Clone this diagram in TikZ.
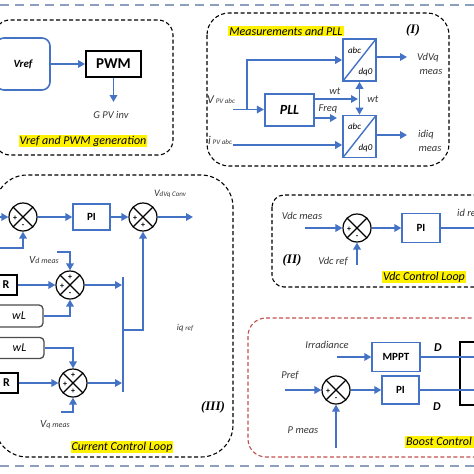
\documentclass[tikz,border=0pt]{standalone}
\usepackage{fontspec}
\setmainfont{Carlito}
\newfontfamily\romfont{Liberation Serif}
\usetikzlibrary{arrows.meta,calc}
\definecolor{lblue}{RGB}{68,114,196}
\definecolor{sepblue}{RGB}{140,160,190}
\definecolor{redd}{RGB}{192,80,77}
\definecolor{txt}{RGB}{55,55,55}
\newcommand\sumsign[3]{\node[sgn] at ($(#1)+(#2)$) {#3};}
\begin{document}
\begin{tikzpicture}[x=1pt,y=-1pt,
  wire/.style={draw=lblue, line width=1.7pt},
  arr/.style={wire, -{Triangle[length=7pt,width=7.5pt]}},
  darr/.style={wire, {Triangle[length=7pt,width=7.5pt]}-{Triangle[length=7pt,width=7.5pt]}},
  bbox/.style={draw=lblue, line width=1.3pt, minimum width=#1, inner sep=0pt},
  sumnode/.style={circle, draw, line width=1.2pt, minimum size=28pt, inner sep=0pt,
     path picture={\draw[line width=1.1pt] (path picture bounding box.north west) -- (path picture bounding box.south east)
       (path picture bounding box.north east) -- (path picture bounding box.south west);}},
  sgn/.style={font=\fontsize{8}{8}\selectfont\bfseries, inner sep=0pt},
  lbl/.style={text=txt, font=\fontsize{10.5}{11}\selectfont\itshape, inner sep=0pt},
  hl/.style={fill=yellow, inner sep=1pt, font=\fontsize{12}{13}\selectfont\itshape, text=black},
  roman/.style={font=\fontsize{13}{13}\selectfont\romfont\itshape\bfseries, inner sep=0pt},
  grp/.style={draw=black, line width=1.1pt, dash pattern=on 4pt off 2.5pt},
  conv/.style={draw=lblue, line width=1.6pt, minimum width=33pt, minimum height=42pt, inner sep=0pt,
     path picture={\draw[lblue, line width=1.4pt] (path picture bounding box.south west) -- (path picture bounding box.north east);}}
]
\useasboundingbox (0,0) rectangle (474,474);

% separators
\draw[sepblue, line width=1.6pt, dash pattern=on 9pt off 6pt] (0,5) -- (474,5);
\draw[sepblue, line width=1.6pt, dash pattern=on 9pt off 6pt] (0,466) -- (474,466);

% ---------- Vref and PWM generation ----------
\draw[grp, rounded corners=15pt] (-5,20) rectangle (173,155);
\node[draw=lblue, line width=1.6pt, rounded corners=8pt, minimum width=54pt, minimum height=52pt,
      font=\fontsize{11}{12}\selectfont\bfseries\itshape] (vref) at (23,64) {Vref};
\node[draw, line width=2pt, minimum width=55pt, minimum height=26pt,
      font=\fontsize{15}{16}\selectfont\bfseries] (pwm) at (113.5,64) {PWM};
\coordinate (gend) at (113.5,102);
\draw[arr] (vref) -- (pwm);
\draw[arr] (pwm) -- (gend);
\node[lbl] (gpv) at (111,115) {G PV inv};
\node[hl] (t1) at (83,141) {Vref and PWM generation};

% ---------- Measurements and PLL ----------
\draw[grp, rounded corners=22pt] (207,13) rectangle (449,166);
\node[hl] (t2) at (286,31) {Measurements and PLL};
\node[roman] (r1) at (413,30) {(I)};
\node[conv] (c1) at (359.5,60) {};
\node[conv] (c2) at (359.5,136.5) {};
\node[lbl, font=\fontsize{9}{9}\selectfont\itshape, text=black] (c1a) at ($(c1)+(-5,-10)$) {abc};
\node[lbl, font=\fontsize{9}{9}\selectfont\itshape, text=black] (c1b) at ($(c1)+(6,12)$) {dq0};
\node[lbl, font=\fontsize{9}{9}\selectfont\itshape, text=black] (c2a) at ($(c2)+(-5,-10)$) {abc};
\node[lbl, font=\fontsize{9}{9}\selectfont\itshape, text=black] (c2b) at ($(c2)+(6,12)$) {dq0};
\node[draw=lblue, line width=2.2pt, minimum width=49pt, minimum height=32pt,
      font=\fontsize{14}{15}\selectfont\bfseries\itshape] (pll) at (289.5,110) {PLL};
\coordinate (vin) at (233,109.5);
\coordinate (br) at (247,109.5);
\draw[arr] (vin) -- (pll.west|-vin);
\draw[arr] (br) |- (c1.west);
\coordinate (wtend) at (358,99);
\coordinate (fqend) at (337,118);
\draw[arr] (pll.east|-wtend) -- (wtend);
\draw[arr] (pll.east|-fqend) -- (fqend);
\draw[darr] (c1.south) -- (c2.north);
\coordinate (iin) at (233,145);
\draw[arr] (iin) -- (c2.west|-iin);
\coordinate (o1) at (407,57);
\coordinate (o2) at (407,135);
\draw[arr] (c1.east|-o1) -- (o1);
\draw[arr] (c2.east|-o2) -- (o2);
\node[lbl] (wt1) at (335,91) {wt};
\node[lbl] (wt2) at (373,99) {wt};
\node[lbl] (frq) at (328,109) {Freq};
\node[lbl, anchor=west] (vpv) at (207,100) {{\fontsize{12}{12}\selectfont V}\,{\fontsize{7}{7}\selectfont PV abc}};
\node[lbl, anchor=west] (ipv) at (208,140) {{\fontsize{12}{12}\selectfont i}\,{\fontsize{7}{7}\selectfont PV abc}};
\node[lbl] (vdvqm) at (428,58) {VdVq};
\node[lbl] (vdvqm2) at (431,72) {meas};
\node[lbl] (idiqm) at (426,135) {idiq};
\node[lbl] (idiqm2) at (430,149) {meas};

% ---------- Current Control Loop ----------
\draw[grp, rounded corners=32pt] (-5,175) rectangle (233,457);
\node[sumnode] (s1) at (23,217) {};
\node[sumnode] (s2) at (143,217) {};
\node[sumnode] (s3) at (70,285) {};
\node[sumnode] (s4) at (73,383) {};
\node[bbox=37pt, minimum height=26pt, font=\fontsize{11}{12}\selectfont\bfseries] (pi1) at (91.5,217) {PI};
\coordinate (in1) at (0,217);
\coordinate (fb1) at (0,248);
\draw[arr] (in1) -- (s1.west);
\draw[arr] (fb1) -| (s1.south);
\draw[arr] (s1) -- (pi1);
\draw[arr] (pi1) -- (s2);
\coordinate (out2) at (193,217);
\draw[arr] (s2.east) -- (out2);
\node[lbl] (vdvqc) at (170,194) {{\fontsize{10}{10}\selectfont V}{\fontsize{7}{7}\selectfont dVq Conv}};
\node[draw, line width=2pt, minimum width=22pt, minimum height=20pt, inner sep=0pt,
      font=\fontsize{12}{12}\selectfont\bfseries] (r1b) at (6,285) {R};
\node[draw=black!70, line width=1.3pt, rounded corners=4pt, minimum width=48pt, minimum height=22pt, inner sep=0pt,
      font=\fontsize{12}{12}\selectfont\itshape] (wl1) at (19,316) {wL};
\node[draw=black!70, line width=1.3pt, rounded corners=4pt, minimum width=49pt, minimum height=21pt, inner sep=0pt,
      font=\fontsize{12}{12}\selectfont\itshape] (wl2) at (19.5,348) {wL};
\node[draw, line width=2pt, minimum width=23pt, minimum height=20pt, inner sep=0pt,
      font=\fontsize{12}{12}\selectfont\bfseries] (r2b) at (6.5,383) {R};
\coordinate (vd) at (57,252);
\draw[arr] (vd) -| (s3.north);
\draw[arr] (r1b) -- (s3);
\draw[arr] (wl1.east) -| (s3.south);
\coordinate (b1) at (122,285);
\draw[arr] (s3.east) -- (b1);
\coordinate (bt) at (123,277);
\coordinate (bb) at (123,392);
\draw[wire] (bt) -- (bb);
\coordinate (jn) at (123,330);
\draw[arr] (jn) -| (s2.south);
\draw[arr] (wl2.east) -| (s4.north);
\draw[arr] (r2b) -- (s4);
\coordinate (vq) at (61,412);
\draw[arr] (vq) -| (s4.south);
\coordinate (b2) at (122,383);
\draw[arr] (s4.east) -- (b2);
\node[lbl] (vdm) at (44,260) {{\fontsize{11}{11}\selectfont V}{\fontsize{8}{8}\selectfont d meas}};
\node[lbl] (vqm) at (55,425) {{\fontsize{11}{11}\selectfont V}{\fontsize{8}{8}\selectfont q meas}};
\node[lbl] (iqr) at (185,328) {{\fontsize{9}{9}\selectfont iq}\,{\fontsize{7}{7}\selectfont ref}};
\node[roman] (r3) at (213,407) {(III)};
\node[hl] (t3) at (122,447) {Current Control Loop};
\sumsign{s1}{-8,1}{+}
\sumsign{s1}{0,9}{-}
\sumsign{s2}{-8,1}{+}
\sumsign{s2}{0,8}{+}
\sumsign{s3}{0,-8}{+}
\sumsign{s3}{-8,1}{+}
\sumsign{s3}{0,9}{-}
\sumsign{s4}{0,-8}{+}
\sumsign{s4}{-8,1}{+}
\sumsign{s4}{0,8}{+}

% ---------- Vdc Control Loop ----------
\draw[grp, rounded corners=12pt] (272,195) rectangle (495,287);
\node[sumnode] (s5) at (357,228) {};
\node[bbox=38pt, minimum height=29pt, font=\fontsize{11}{12}\selectfont\bfseries] (pi2) at (421,228) {PI};
\coordinate (vdcm) at (305,228);
\coordinate (vdcr) at (357,265);
\coordinate (idr) at (480,228);
\draw[arr] (vdcm) -- (s5.west);
\draw[arr] (vdcr) -- (s5.south);
\draw[arr] (s5) -- (pi2);
\draw[wire] (pi2.east) -- (idr);
\sumsign{s5}{-8,1}{+}
\sumsign{s5}{0,9}{-}
\node[lbl] (vdcml) at (302,216) {Vdc meas};
\node[lbl] (vdcrl) at (333,261) {Vdc ref};
\node[roman] (r2) at (292,260) {(II)};
\node[lbl, anchor=west] (idrl) at (457,213) {id ref};
\node[hl] (t4) at (424,277) {Vdc Control Loop};

% ---------- Boost Control Loop ----------
\draw[draw=redd, line width=1.1pt, dash pattern=on 4pt off 2.5pt, rounded corners=18pt] (248,318) rectangle (495,457);
\node[draw, line width=1.6pt, minimum width=40pt, minimum height=63pt, inner sep=0pt] (blk) at (480,373.5) {};
\node[bbox=48pt, minimum height=29pt, font=\fontsize{11}{12}\selectfont\bfseries] (mppt) at (396,357) {MPPT};
\node[sumnode] (s6) at (336,390) {};
\node[bbox=37pt, minimum height=28pt, font=\fontsize{11}{12}\selectfont\bfseries] (pi3) at (400.5,390) {PI};
\coordinate (irr) at (337,357);
\coordinate (pref) at (285,390);
\coordinate (pmeas) at (336,448);
\coordinate (d1) at (480,357);
\coordinate (d2) at (480,390);
\draw[arr] (irr) -- (mppt.west);
\draw[wire] (mppt.east) -- (d1);
\draw[arr] (pref) -- (s6.west);
\draw[arr] (pmeas) -- (s6.south);
\draw[arr] (s6) -- (pi3);
\draw[wire] (pi3.east) -- (d2);
\sumsign{s6}{-8,1}{+}
\sumsign{s6}{0,9}{-}
\node[lbl] (irrl) at (327,345) {Irradiance};
\node[lbl] (prefl) at (290,376) {Pref};
\node[lbl] (pmeasl) at (303,430) {P meas};
\node[lbl, font=\fontsize{12}{12}\selectfont\bfseries\itshape, text=black] (dl1) at (438,348) {D};
\node[lbl, font=\fontsize{12}{12}\selectfont\bfseries\itshape, text=black] (dl2) at (437,407) {D};
\node[hl, anchor=west] (t5) at (405,442) {Boost Control Loop};
\end{tikzpicture}
\end{document}
